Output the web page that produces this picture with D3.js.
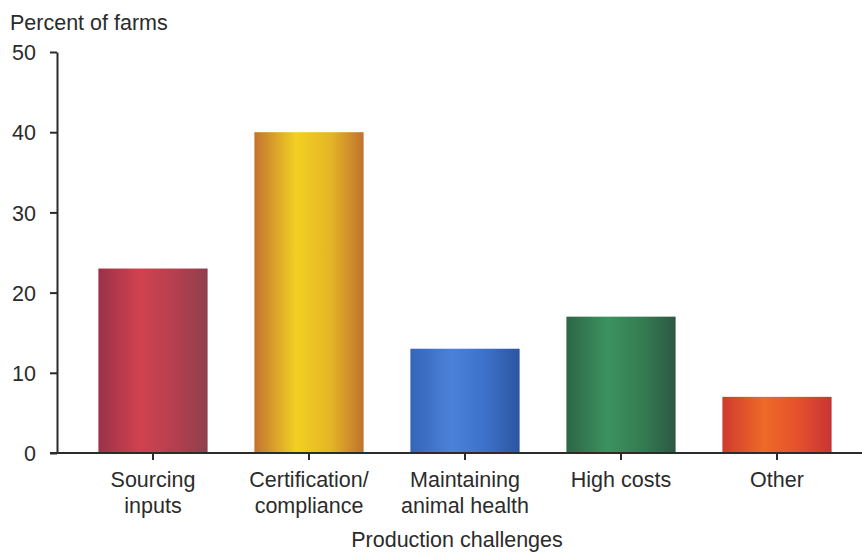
<!DOCTYPE html>
<html>
<head>
<meta charset="utf-8">
<script src="https://cdn.jsdelivr.net/npm/d3@7"></script>
<style>
  body { margin: 0; background: #fff; }
  svg { display: block; font-family: "Liberation Sans", Arial, sans-serif; }
</style>
</head>
<body>
<svg width="862" height="554"></svg>
<script>
// data
const categories = [["Sourcing", "inputs"], ["Certification/", "compliance"], ["Maintaining", "animal health"], ["High costs"], ["Other"]];
const values = [23, 40, 13, 17, 7];
const yTicks = [0, 10, 20, 30, 40, 50];
// gradient stops for each bar (left edge, highlight, right edge)
const barColours = [
  ["#9a3247", "#d1424f", "#b53f4e", "#8f3f4d"],
  ["#c4722f", "#f1d122", "#e5b525", "#c1712f"],
  ["#3465b8", "#4b82d9", "#3c70c8", "#2b55a0"],
  ["#2d6546", "#3b935f", "#347b52", "#2c5842"],
  ["#cf3a30", "#ee6a27", "#e4502c", "#c83434"]
];

const svg = d3.select("svg");
const textColour = "#2b2b2b";
const fontSize = 21.5;

const x = d3.scaleBand()
  .domain(d3.range(values.length))
  .range([75, 855])
  .paddingInner(0.3)
  .paddingOuter(0.15);

const y = d3.scaleLinear()
  .domain([0, 50])
  .range([453, 52]);

// gradients
const defs = svg.append("defs");
barColours.forEach((c, i) => {
  const g = defs.append("linearGradient")
    .attr("id", "grad" + i)
    .attr("x1", "0%").attr("x2", "100%")
    .attr("y1", "0%").attr("y2", "0%");
  [0, 0.38, 0.7, 1].forEach((o, j) => {
    g.append("stop").attr("offset", o).attr("stop-color", c[j]);
  });
});

// bars
svg.append("g").selectAll("rect")
  .data(values)
  .join("rect")
  .attr("x", (d, i) => x(i))
  .attr("y", d => y(d))
  .attr("width", x.bandwidth())
  .attr("height", d => y(0) - y(d))
  .attr("fill", (d, i) => `url(#grad${i})`);

// y axis
const yAxis = svg.append("g")
  .attr("transform", "translate(57,0)")
  .call(d3.axisLeft(y).tickValues(yTicks).tickSize(7).tickSizeOuter(0));
yAxis.select(".domain").attr("stroke", textColour).attr("stroke-width", 2);
yAxis.selectAll(".tick line").attr("stroke", textColour).attr("stroke-width", 2);
yAxis.selectAll(".tick text")
  .attr("x", -21)
  .attr("dy", "0.36em")
  .attr("fill", textColour)
  .attr("font-size", fontSize)
  .attr("font-family", "Liberation Sans, Arial, sans-serif");

// x axis
const xAxis = svg.append("g")
  .attr("transform", `translate(0,${y(0)})`)
  .call(d3.axisBottom(x).tickSize(7).tickSizeOuter(0).tickFormat(""));
xAxis.select(".domain").attr("d", "M50,0H862").attr("stroke", textColour).attr("stroke-width", 2);
xAxis.selectAll(".tick line").attr("stroke", textColour).attr("stroke-width", 2);

// category labels
const labels = svg.append("g")
  .attr("fill", textColour)
  .attr("font-size", fontSize)
  .attr("text-anchor", "middle");
categories.forEach((lines, i) => {
  const t = labels.append("text")
    .attr("x", x(i) + x.bandwidth() / 2)
    .attr("y", 487);
  lines.forEach((l, j) => {
    t.append("tspan")
      .attr("x", x(i) + x.bandwidth() / 2)
      .attr("dy", j === 0 ? 0 : 26)
      .text(l);
  });
});

// axis titles
svg.append("text")
  .attr("x", 10)
  .attr("y", 30)
  .attr("fill", textColour)
  .attr("font-size", fontSize)
  .text("Percent of farms");

svg.append("text")
  .attr("x", 457)
  .attr("y", 547)
  .attr("fill", textColour)
  .attr("font-size", fontSize)
  .attr("text-anchor", "middle")
  .text("Production challenges");
</script>
</body>
</html>
